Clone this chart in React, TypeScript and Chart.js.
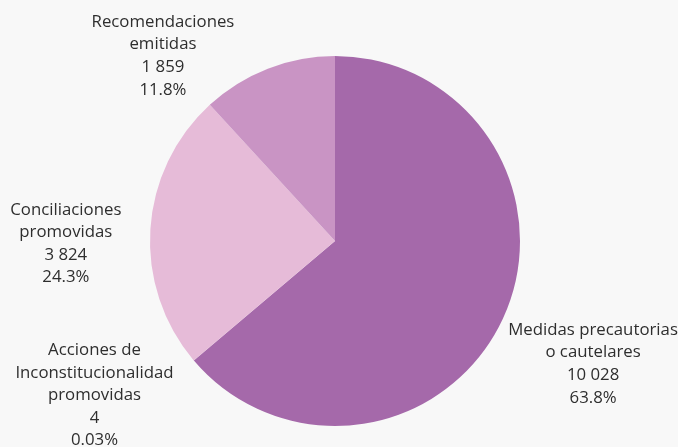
import React, { useEffect, useRef } from "react";
import { Chart, registerables } from "chart.js";

Chart.register(...registerables);

const categories: string[][] = [
  ["Medidas precautorias", "o cautelares"],
  ["Acciones de", "Inconstitucionalidad", "promovidas"],
  ["Conciliaciones", "promovidas"],
  ["Recomendaciones", "emitidas"],
];
const values: number[] = [10028, 4, 3824, 1859];
const valueLabels: string[] = ["10 028", "4", "3 824", "1 859"];
const percentLabels: string[] = ["63.8%", "0.03%", "24.3%", "11.8%"];
const colors: string[] = ["#a569aa", "#a569aa", "#e6bbd8", "#c994c4"];
// label centre offsets relative to pie centre, in units of radius
const labelOffsets: [number, number][] = [
  [1.395, 0.665],
  [-1.30, 0.835],
  [-1.455, 0.015],
  [-0.93, -1.0],
];

const labelPlugin = {
  id: "outerLabels",
  afterDatasetsDraw(chart: any) {
    const ctx = chart.ctx;
    const meta = chart.getDatasetMeta(0);
    const arc = meta.data[0];
    if (!arc) return;
    const { x: cx, y: cy, outerRadius: r } = arc.getProps(["x", "y", "outerRadius"], true);
    ctx.save();
    ctx.font = "16.8px 'Open Sans'";
    ctx.fillStyle = "#2e2e2e";
    ctx.textAlign = "center";
    ctx.textBaseline = "middle";
    const lh = 22.6;
    categories.forEach((cat, i) => {
      const lines = [...cat, valueLabels[i], percentLabels[i]];
      const lx = cx + labelOffsets[i][0] * r;
      const ly = cy + labelOffsets[i][1] * r;
      const top = ly - ((lines.length - 1) * lh) / 2;
      lines.forEach((t, j) => ctx.fillText(t, lx, top + j * lh));
    });
    ctx.restore();
  },
};

export default function App() {
  const ref = useRef<HTMLCanvasElement>(null);
  useEffect(() => {
    document.body.style.margin = "0";
    const chart = new Chart(ref.current!, {
      type: "pie",
      data: {
        labels: categories.map((c) => c.join(" ")),
        datasets: [
          {
            data: values,
            backgroundColor: colors,
            borderWidth: 0,
          },
        ],
      },
      options: {
        animation: false,
        responsive: false,
        layout: { padding: { top: 56, bottom: 21, left: 150, right: 158 } },
        plugins: { legend: { display: false }, tooltip: { enabled: false } },
      },
      plugins: [labelPlugin],
    });
    return () => chart.destroy();
  }, []);
  return (
    <div style={{ width: 678, height: 447, background: "#f8f8f8" }}>
      <canvas ref={ref} width={678} height={447} style={{ display: "block" }} />
    </div>
  );
}
